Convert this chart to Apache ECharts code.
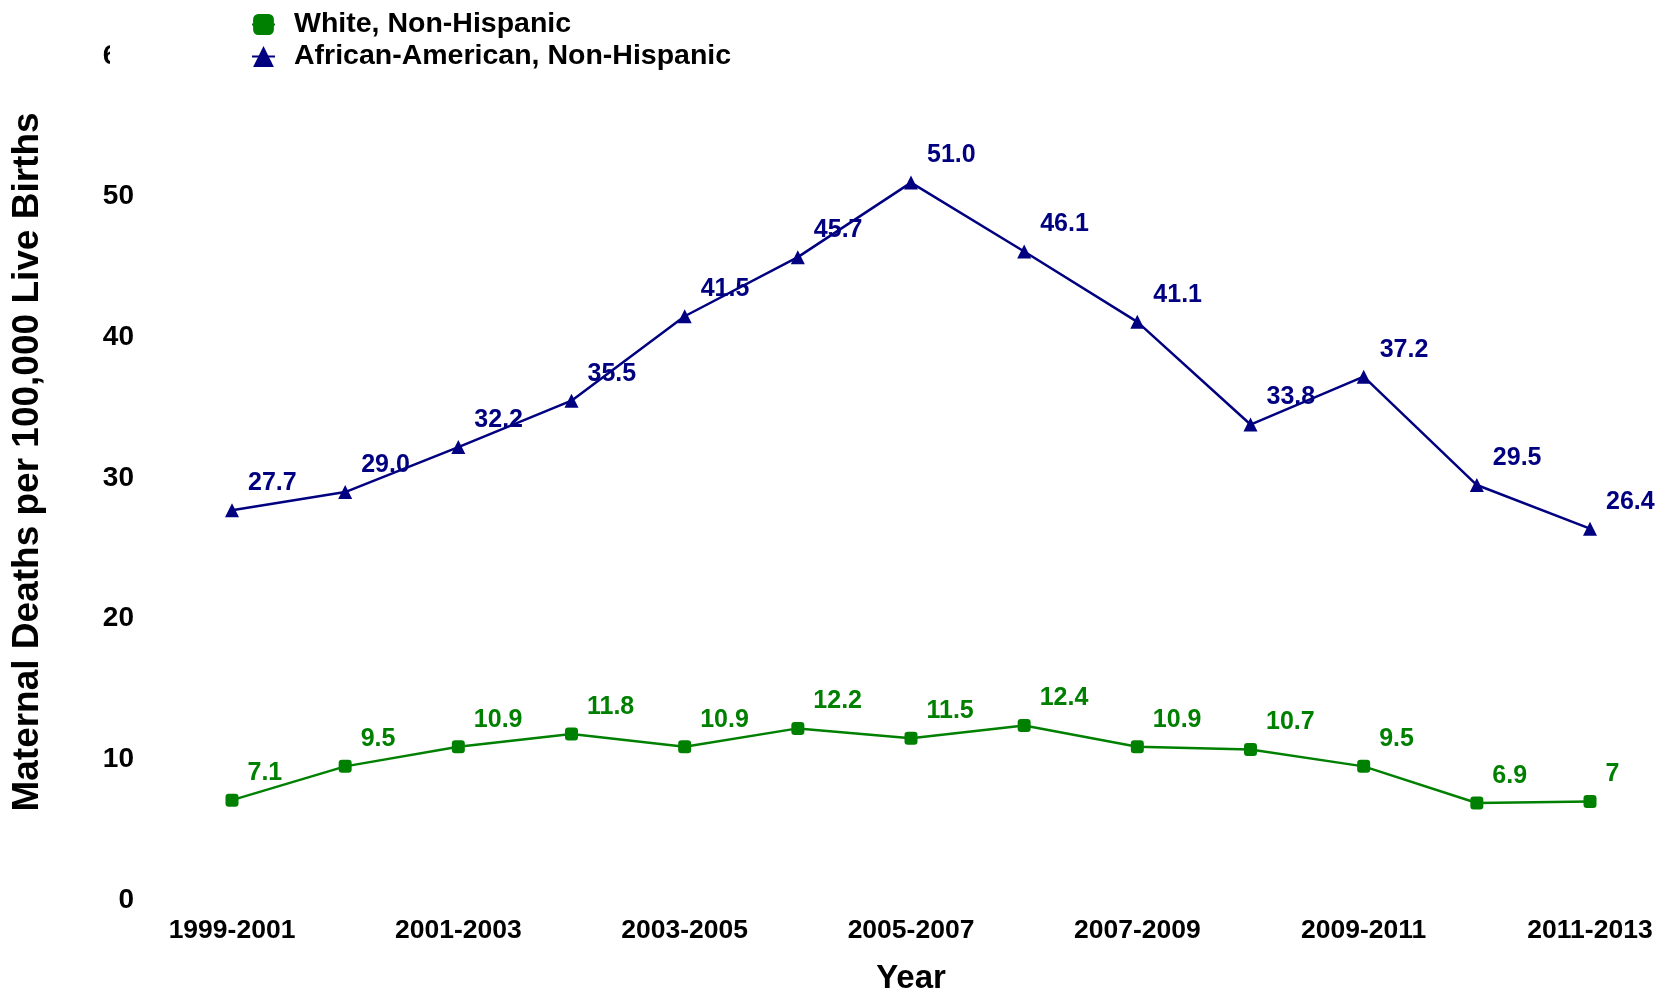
<!DOCTYPE html>
<html>
<head>
<meta charset="utf-8">
<script src="https://cdn.jsdelivr.net/npm/echarts@6/dist/echarts.min.js"></script>
<style>
  html, body { margin: 0; padding: 0; background: #fff; }
  #chart { width: 1657px; height: 1000px; }
</style>
</head>
<body>
<div id="chart"></div>
<script>
const categories = ['1999-2001', '2000-2002', '2001-2003', '2002-2004', '2003-2005', '2004-2006',
  '2005-2007', '2006-2008', '2007-2009', '2008-2010', '2009-2011', '2010-2012', '2011-2013'];
const whiteValues = [7.1, 9.5, 10.9, 11.8, 10.9, 12.2, 11.5, 12.4, 10.9, 10.7, 9.5, 6.9, 7];
const whiteLabels = ['7.1', '9.5', '10.9', '11.8', '10.9', '12.2', '11.5', '12.4', '10.9', '10.7', '9.5', '6.9', '7'];
const blackValues = [27.7, 29.0, 32.2, 35.5, 41.5, 45.7, 51.0, 46.1, 41.1, 33.8, 37.2, 29.5, 26.4];
const blackLabels = ['27.7', '29.0', '32.2', '35.5', '41.5', '45.7', '51.0', '46.1', '41.1', '33.8', '37.2', '29.5', '26.4'];
const seriesNames = ['White, Non-Hispanic', 'African-American, Non-Hispanic'];
const yTicks = { min: 0, max: 60, interval: 10 };

const FONT = "'Liberation Sans', Arial, Helvetica, sans-serif";
const GREEN = '#008000';
const NAVY = '#000080';

function labelCfg(color, texts) {
  return {
    show: true,
    position: 'right',
    distance: 9,
    offset: [0, -27],
    color: color,
    fontFamily: FONT,
    fontWeight: 'bold',
    fontSize: 25,
    formatter: p => texts[p.dataIndex]
  };
}

const chart = echarts.init(document.getElementById('chart'), null, { renderer: 'canvas' });
chart.setOption({
  backgroundColor: '#ffffff',
  animation: false,
  grid: { left: 232, right: 67, top: 56, bottom: 94, containLabel: false },
  legend: {
    data: seriesNames,
    orient: 'vertical',
    left: 110,
    top: 0,
    padding: [10, 10, 1, 141],
    backgroundColor: '#ffffff',
    itemWidth: 23,
    itemHeight: 26,
    itemGap: 3,
    z: 10,
    textStyle: {
      fontFamily: FONT,
      fontWeight: 'bold',
      fontSize: 28.5,
      lineHeight: 26,
      color: '#000',
      padding: [0, 0, 0, 14]
    }
  },
  xAxis: {
    type: 'category',
    data: categories,
    boundaryGap: false,
    name: 'Year',
    nameLocation: 'middle',
    nameGap: 62,
    nameTextStyle: { fontFamily: FONT, fontWeight: 'bold', fontSize: 33, color: '#000' },
    axisLine: { show: false },
    axisTick: { show: false },
    splitLine: { show: false },
    axisLabel: {
      interval: 1,
      margin: 17,
      fontFamily: FONT,
      fontWeight: 'bold',
      fontSize: 26.5,
      color: '#000'
    }
  },
  yAxis: {
    type: 'value',
    min: yTicks.min,
    max: yTicks.max,
    interval: yTicks.interval,
    name: 'Maternal Deaths per 100,000 Live Births',
    nameLocation: 'middle',
    nameGap: 186,
    nameTextStyle: {
      fontFamily: FONT, fontWeight: 'bold', fontSize: 37, color: '#000',
      padding: [0, 0, 0, 32]
    },
    axisLine: { show: false },
    axisTick: { show: false },
    splitLine: { show: false },
    axisLabel: {
      margin: 98,
      padding: [6, 0, 0, 0],
      fontFamily: FONT,
      fontWeight: 'bold',
      fontSize: 28,
      color: '#000'
    }
  },
  series: [
    {
      name: seriesNames[0],
      type: 'line',
      data: whiteValues,
      symbol: 'roundRect',
      symbolSize: 13,
      itemStyle: { color: GREEN },
      lineStyle: { color: GREEN, width: 2.5 },
      label: labelCfg(GREEN, whiteLabels)
    },
    {
      name: seriesNames[1],
      type: 'line',
      data: blackValues,
      symbol: 'triangle',
      symbolSize: 14,
      itemStyle: { color: NAVY },
      lineStyle: { color: NAVY, width: 2.5 },
      label: labelCfg(NAVY, blackLabels)
    }
  ]
});
</script>
</body>
</html>
